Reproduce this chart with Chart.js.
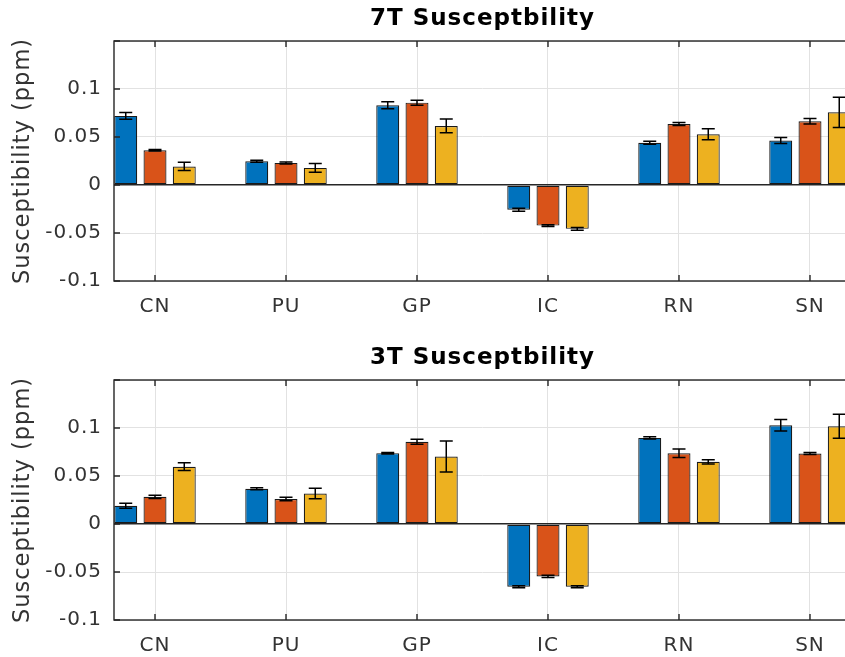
<!DOCTYPE html>
<html>
<head>
<meta charset="utf-8">
<script src="https://cdn.jsdelivr.net/npm/chart.js@4/dist/chart.umd.min.js"></script>
<style>
  html, body { margin: 0; padding: 0; background: #fff; overflow: hidden; width: 845px; height: 657px; }
  .wrap { position: absolute; left: 0; width: 860px; height: 318px; }
  canvas { display: block; letter-spacing: 1px; }
</style>
</head>
<body>
<div class="wrap" style="top:0px"><canvas id="c7" width="860" height="318"></canvas></div>
<div class="wrap" style="top:339px"><canvas id="c3" width="860" height="318"></canvas></div>
<script>
// ---------- data ----------
const categories = ['CN', 'PU', 'GP', 'IC', 'RN', 'SN'];
const yTicks = [-0.1, -0.05, 0, 0.05, 0.1];

// 7T susceptibility (ppm), three groups, order CN PU GP IC RN SN
const s7_a = [0.0720, 0.0247, 0.0830, -0.0258, 0.0440, 0.0464];
const s7_b = [0.0362, 0.0230, 0.0858, -0.0423, 0.0636, 0.0664];
const s7_c = [0.0193, 0.0178, 0.0615, -0.0457, 0.0528, 0.0757];
const e7_a = [0.0034, 0.0010, 0.0036, 0.0015, 0.0015, 0.0031];
const e7_b = [0.0008, 0.0010, 0.0026, 0.0010, 0.0015, 0.0029];
const e7_c = [0.0043, 0.0045, 0.0072, 0.0015, 0.0057, 0.0158];

// 3T susceptibility (ppm), three groups, order CN PU GP IC RN SN
const s3_a = [0.0189, 0.0367, 0.0738, -0.0653, 0.0897, 0.1028];
const s3_b = [0.0283, 0.0260, 0.0857, -0.0546, 0.0737, 0.0735];
const s3_c = [0.0597, 0.0318, 0.0703, -0.0653, 0.0648, 0.1018];
const e3_a = [0.0026, 0.0010, 0.0008, 0.0010, 0.0012, 0.0060];
const e3_b = [0.0017, 0.0018, 0.0027, 0.0012, 0.0045, 0.0010];
const e3_c = [0.0040, 0.0055, 0.0162, 0.0010, 0.0022, 0.0124];

const titles = { c7: '7T Susceptbility', c3: '3T Susceptbility' };
</script>
<script>
const COLORS = ['#0072BD', '#D95319', '#EDB120'];
const AXIS = '#262626';
Chart.defaults.font.family = "'DejaVu Sans', sans-serif";
Chart.defaults.color = AXIS;

const spacing = {
  id: 'spacing',
  beforeInit(chart) { chart.ctx.letterSpacing = '1px'; },
  beforeUpdate(chart) { chart.ctx.letterSpacing = '1px'; },
  beforeDraw(chart) { chart.ctx.letterSpacing = '1px'; }
};

const decor = {
  id: 'decor',
  afterDatasetsDraw(chart) {
    const ctx = chart.ctx, ys = chart.scales.y;
    ctx.save();
    ctx.strokeStyle = '#000';
    ctx.lineWidth = 1.5;
    chart.data.datasets.forEach((ds, di) => {
      const meta = chart.getDatasetMeta(di);
      meta.data.forEach((bar, i) => {
        const v = ds.data[i].y, e = ds.errors[i];
        const yt = ys.getPixelForValue(v + e), yb = ys.getPixelForValue(v - e);
        const cap = 6.5;
        ctx.beginPath();
        ctx.moveTo(bar.x, yt); ctx.lineTo(bar.x, yb);
        ctx.moveTo(bar.x - cap, yt); ctx.lineTo(bar.x + cap, yt);
        ctx.moveTo(bar.x - cap, yb); ctx.lineTo(bar.x + cap, yb);
        ctx.stroke();
      });
    });
    ctx.restore();
  },
  afterDraw(chart) {
    const ctx = chart.ctx, a = chart.chartArea;
    const xs = chart.scales.x, ys = chart.scales.y;
    ctx.save();
    ctx.strokeStyle = AXIS;
    ctx.lineWidth = 1.4;
    ctx.strokeRect(a.left, a.top, a.right - a.left, a.bottom - a.top);
    ctx.beginPath();
    const tl = 6;
    xs.ticks.forEach(t => {
      const px = xs.getPixelForValue(t.value);
      ctx.moveTo(px, a.bottom); ctx.lineTo(px, a.bottom - tl);
      ctx.moveTo(px, a.top); ctx.lineTo(px, a.top + tl);
    });
    ys.ticks.forEach(t => {
      const py = ys.getPixelForValue(t.value);
      ctx.moveTo(a.left, py); ctx.lineTo(a.left + tl, py);
      ctx.moveTo(a.right, py); ctx.lineTo(a.right - tl, py);
    });
    ctx.stroke();
    // title
    ctx.fillStyle = '#000';
    ctx.letterSpacing = '1px';
    ctx.font = "bold 23px 'DejaVu Sans'";
    ctx.textAlign = 'center';
    ctx.textBaseline = 'middle';
    ctx.fillText(chart.options.plugins.figTitle.text, (a.left + a.right) / 2, 19);
    ctx.restore();
  }
};

function makeChart(id, vals, errs) {
  const datasets = vals.map((arr, k) => ({
    data: arr.map((v, i) => ({ x: i + 1, y: v })),
    errors: errs[k],
    backgroundColor: COLORS[k],
    borderColor: '#1a1a1a',
    borderWidth: 1.2,
    borderSkipped: false,
    categoryPercentage: 0.67,
    barPercentage: 0.785
  }));
  return new Chart(document.getElementById(id), {
    type: 'bar',
    data: { datasets },
    plugins: [spacing, decor],
    options: {
      responsive: false,
      animation: false,
      devicePixelRatio: 1,
      layout: { padding: { top: 41, right: 9, left: 0, bottom: 0 } },
      plugins: {
        legend: { display: false },
        tooltip: { enabled: false },
        title: { display: false },
        figTitle: { text: titles[id] }
      },
      scales: {
        x: {
          type: 'linear',
          offset: false,
          min: 0.687,
          max: 6.313,
          afterBuildTicks: s => { s.ticks = categories.map((c, i) => ({ value: i + 1 })); },
          afterFit: s => { s.height = 37; },
          ticks: {
            callback: v => categories[Math.round(v) - 1] || '',
            font: { size: 20 },
            color: '#333',
            padding: 14,
            maxRotation: 0,
            autoSkip: false
          },
          grid: { color: '#e2e2e2', lineWidth: 1, drawTicks: false, offset: false },
          border: { display: false }
        },
        y: {
          min: -0.1,
          max: 0.15,
          afterBuildTicks: s => { s.ticks = [...yTicks, 0.15].map(v => ({ value: v })); },
          afterFit: s => { s.width = 114; },
          ticks: {
            callback: v => (yTicks.some(t => Math.abs(t - v) < 1e-9) ? String(+v.toFixed(3)) : ''),
            font: { size: 20 },
            color: '#333',
            padding: 12
          },
          grid: {
            color: c => (c.tick && Math.abs(c.tick.value) < 1e-9 ? AXIS : '#e2e2e2'),
            lineWidth: c => (c.tick && Math.abs(c.tick.value) < 1e-9 ? 1.4 : 1),
            drawTicks: false
          },
          border: { display: false },
          title: {
            display: true,
            text: 'Susceptibility (ppm)',
            font: { size: 22.5 },
            color: '#333',
            padding: { top: 10, bottom: 0 }
          }
        }
      }
    }
  });
}

makeChart('c7', [s7_a, s7_b, s7_c], [e7_a, e7_b, e7_c]);
makeChart('c3', [s3_a, s3_b, s3_c], [e3_a, e3_b, e3_c]);
</script>
</body>
</html>
